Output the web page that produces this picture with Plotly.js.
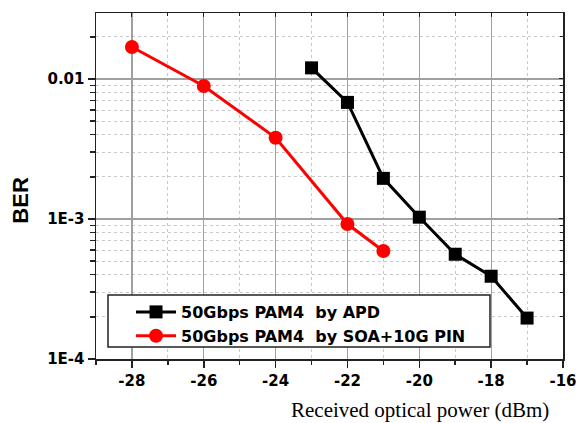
<!DOCTYPE html>
<html>
<head>
<meta charset="utf-8">
<script src="https://cdn.plot.ly/plotly-3.0.1.min.js"></script>
<style>html,body{margin:0;padding:0;background:#fff;}#chart{width:580px;height:423px;}</style>
</head>
<body>
<div id="chart"></div>
<script>
const apdPower = [-23, -22, -21, -20, -19, -18, -17];
const apdBER = [0.012, 0.0068, 0.00195, 0.00103, 0.00056, 0.00039, 0.000196];
const soaPower = [-28, -26, -24, -22, -21];
const soaBER = [0.0169, 0.0089, 0.0038, 0.00092, 0.00059];
const apdName = "50Gbps PAM4\u00a0 by APD";
const soaName = "50Gbps PAM4\u00a0 by SOA+10G PIN";
const xTicks = [-28, -26, -24, -22, -20, -18, -16];
const yTickVals = [0.0001, 0.001, 0.01];
const yTickText = ["1E-4", "1E-3", "0.01"];
const yMinorVals = [];
[0.0001, 0.001, 0.01].forEach(d => { for (let k = 2; k <= 9; k++) yMinorVals.push(d * k); });
const xMinorVals = [-29, -27, -25, -23, -21, -19, -17];

const tickFont = {family: "DejaVu Sans", size: 15, color: "#000", weight: "bold"};

const traces = [
  {x: apdPower, y: apdBER, name: apdName, type: "scatter", mode: "lines+markers",
   line: {color: "#000", width: 3}, marker: {symbol: "square", size: 13, color: "#000"}},
  {x: soaPower, y: soaBER, name: soaName, type: "scatter", mode: "lines+markers",
   line: {color: "#ff0000", width: 3}, marker: {symbol: "circle", size: 14, color: "#ff0000"}},
  {x: [], y: [], xaxis: "x2", yaxis: "y2", showlegend: false, hoverinfo: "skip"}
];

const layout = {
  width: 580, height: 423,
  margin: {l: 96, r: 17, t: 13, b: 64},
  paper_bgcolor: "#fff", plot_bgcolor: "#fff",
  showlegend: true,
  xaxis: {
    range: [-29, -16], tickmode: "array", tickvals: xTicks, ticktext: xTicks.map(String),
    ticks: "outside", ticklen: 7, tickwidth: 1.5, tickcolor: "#222",
    showline: true, linecolor: "#222", linewidth: 1.5, mirror: true,
    showgrid: true, gridcolor: "#a0a0a0", gridwidth: 1.2,
    zeroline: false, tickfont: tickFont,
    minor: {tickmode: "array", tickvals: xMinorVals, ticks: "outside", ticklen: 4, tickcolor: "#222",
            showgrid: true, gridcolor: "#c8c8c8", griddash: "dot", gridwidth: 1}
  },
  yaxis: {
    type: "log", range: [-4, -1.529], tickmode: "array", tickvals: yTickVals, ticktext: yTickText,
    ticks: "outside", ticklen: 7, tickwidth: 1.5, tickcolor: "#222",
    showline: true, linecolor: "#222", linewidth: 1.5, mirror: true,
    showgrid: true, gridcolor: "#a0a0a0", gridwidth: 1.2,
    zeroline: false, tickfont: tickFont,
    minor: {tickmode: "array", tickvals: yMinorVals, ticks: "outside", ticklen: 5, tickcolor: "#222",
            showgrid: true, gridcolor: "#c8c8c8", griddash: "dot", gridwidth: 1}
  },
  xaxis2: {
    overlaying: "x", side: "top", range: [-29, -16], tickmode: "array", tickvals: xTicks,
    showticklabels: false, ticks: "inside", ticklen: 4, tickcolor: "#222", showgrid: false, zeroline: false,
    minor: {tickmode: "array", tickvals: xMinorVals, ticks: "inside", ticklen: 3, tickcolor: "#222", showgrid: false}
  },
  yaxis2: {
    overlaying: "y", side: "right", type: "log", range: [-4, -1.529], tickmode: "array", tickvals: yTickVals,
    showticklabels: false, ticks: "inside", ticklen: 4, tickcolor: "#222", showgrid: false, zeroline: false,
    minor: {tickmode: "array", tickvals: yMinorVals, ticks: "inside", ticklen: 3, tickcolor: "#222", showgrid: false}
  },
  legend: {
    x: 0.075, y: 0.185, xanchor: "left", yanchor: "top",
    bgcolor: "rgba(0,0,0,0)", borderwidth: 0,
    font: {family: "DejaVu Sans", size: 16, color: "#000", weight: "bold"},
    itemwidth: 40, tracegroupgap: 0
  },
  shapes: [
    {type: "rect", xref: "paper", yref: "paper", x0: 0.0257, x1: 0.8437, y0: 0.0347, y1: 0.185,
     layer: "above", fillcolor: "#fff", line: {color: "#222", width: 1.5}}
  ],
  annotations: [
    {text: "BER", xref: "paper", yref: "paper", x: -0.161, y: 0.46, xanchor: "center", yanchor: "middle",
     textangle: -90, showarrow: false, font: {family: "Liberation Sans", size: 22, color: "#000", weight: "bold"}},
    {text: "Received optical power (dBm)", xref: "paper", yref: "paper", x: 0.694, y: -0.146,
     xanchor: "center", yanchor: "middle", showarrow: false,
     font: {family: "Liberation Serif", size: 21, color: "#000"}}
  ]
};

Plotly.newPlot("chart", traces, layout, {displayModeBar: false, staticPlot: true});
</script>
</body>
</html>
